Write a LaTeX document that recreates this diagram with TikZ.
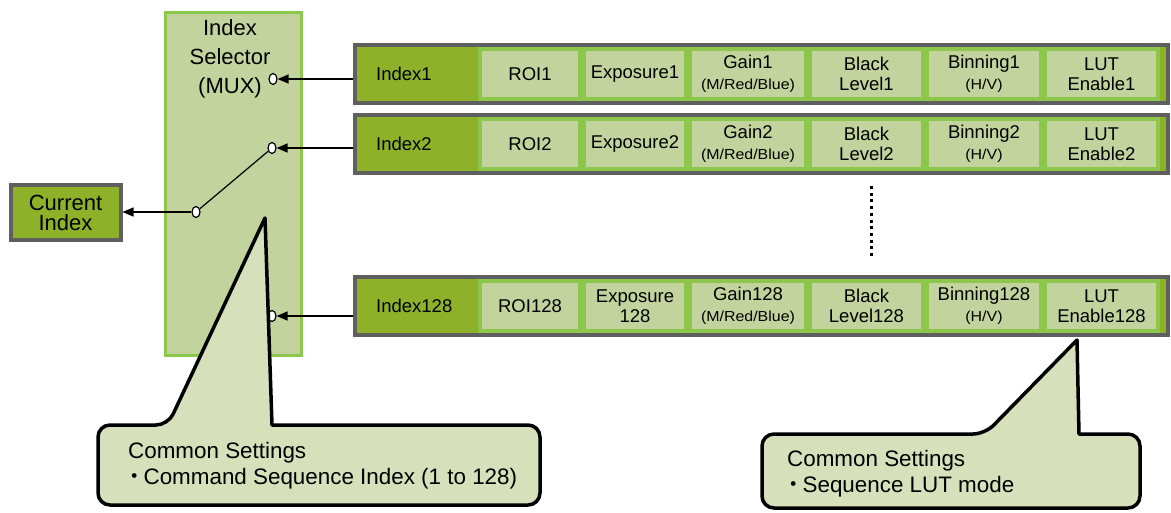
\documentclass[tikz,border=0pt]{standalone}
\usepackage{fontspec}
\setmainfont{Liberation Sans}
\newfontfamily\widesans[FakeStretch=1.1]{Liberation Sans}
\newfontfamily\cjkfont{Noto Sans CJK JP}
\usepackage{tikz}
\usetikzlibrary{arrows.meta,positioning,shapes.geometric}
\definecolor{OliveIdx}{HTML}{8DB22A}
\definecolor{LeafGreen}{HTML}{8CC64B}
\definecolor{PaleCell}{HTML}{C3D39E}
\definecolor{NoteFill}{HTML}{D6E1BC}
\definecolor{FrameGray}{HTML}{5F5F5F}
\newcommand\cellfont{\fontsize{18.5}{20.5}\selectfont}
\newcommand\subtxt[1]{{\widesans\fontsize{14.5}{13}\selectfont #1}}
\newcommand\dotmark{{\cjkfont\kern-5pt ・\kern-2pt}}

\begin{document}
\begin{tikzpicture}[x=1pt,y=-1pt,
  rowbox/.style={rectangle,draw=FrameGray,line width=4pt,fill=OliveIdx,
                 minimum width=813pt,minimum height=58pt,inner sep=0pt},
  idx/.style={inner sep=0pt,font=\cellfont},
  cell/.style={rectangle,draw=LeafGreen,line width=4pt,fill=PaleCell,
               minimum width=#1,minimum height=50pt,inner sep=2pt,
               align=center,font=\cellfont},
  muxbox/.style={rectangle,draw=LeafGreen,line width=3pt,fill=PaleCell,
                 minimum width=136pt,minimum height=343pt},
  curbox/.style={rectangle,draw=FrameGray,line width=4pt,fill=OliveIdx,
                 minimum width=110pt,minimum height=55pt,align=center,
                 font=\fontsize{22}{20}\selectfont},
  pin/.style={ellipse,draw,fill=white,line width=1.2pt,inner sep=0pt,
              minimum width=8pt,minimum height=11pt},
  arr/.style={-{Triangle[length=11pt,width=9pt]},line width=1.3pt},
  note/.style={draw=black,line width=3.5pt,fill=NoteFill,line join=round},
  notetext/.style={anchor=west,inner sep=0pt,align=left,
                   font=\fontsize{22.4}{26}\selectfont}]
\useasboundingbox (0,0) rectangle (1171,512);
% selector and output
\node[muxbox] (mux) at (233,184) {};
\node[align=center,font=\fontsize{22}{29}\selectfont] (muxlbl) at (230,59)
  {Index\\Selector\\(MUX)};
\node[curbox] (cur) at (65.5,212.5) {Current\\Index};
% sequence rows
\node[rowbox] (r1) at (761.5,74) {};
\node[idx,right=23pt of r1.west] (i1) {Index1};
\node[cell=100pt,right=125pt of r1.west] (roi1) {ROI1};
\node[cell=102pt,right=0pt of roi1] (exp1) {Exposure1};
\node[cell=116pt,right=0pt of exp1] (gain1) {Gain1\\\subtxt{(M/Red/Blue)}};
\node[cell=113pt,right=0pt of gain1] (blk1) {Black\\Level1};
\node[cell=114pt,right=0pt of blk1] (bin1) {Binning1\\\subtxt{(H/V)}};
\node[cell=113pt,right=0pt of bin1] (lut1) {LUT\\Enable1};

\node[rowbox] (r2) at (761.5,144) {};
\node[idx,right=23pt of r2.west] (i2) {Index2};
\node[cell=100pt,right=125pt of r2.west] (roi2) {ROI2};
\node[cell=102pt,right=0pt of roi2] (exp2) {Exposure2};
\node[cell=116pt,right=0pt of exp2] (gain2) {Gain2\\\subtxt{(M/Red/Blue)}};
\node[cell=113pt,right=0pt of gain2] (blk2) {Black\\Level2};
\node[cell=114pt,right=0pt of blk2] (bin2) {Binning2\\\subtxt{(H/V)}};
\node[cell=113pt,right=0pt of bin2] (lut2) {LUT\\Enable2};

\node[rowbox] (r128) at (761.5,306) {};
\node[idx,right=23pt of r128.west] (i128) {Index128};
\node[cell=100pt,right=125pt of r128.west] (roi128) {ROI128};
\node[cell=102pt,right=0pt of roi128] (exp128) {Exposure\\128};
\node[cell=116pt,right=0pt of exp128] (gain128) {Gain128\\\subtxt{(M/Red/Blue)}};
\node[cell=113pt,right=0pt of gain128] (blk128) {Black\\Level128};
\node[cell=114pt,right=0pt of blk128] (bin128) {Binning128\\\subtxt{(H/V)}};
\node[cell=113pt,right=0pt of bin128] (lut128) {LUT\\Enable128};

\coordinate (dtop) at (871,186);
\coordinate (dbot) at (871,256);
\draw[line width=3pt,dash pattern=on 3pt off 3.7pt] (dtop) -- (dbot);
% switch contacts
\node[pin] (c1) at (273,79) {};
\node[pin] (c2) at (272,148) {};
\node[pin] (c128) at (272,316) {};
\node[pin] (csw) at (196,212) {};
\draw[arr] (r1.west |- c1) -- (c1);
\draw[arr] (r2.west |- c2) -- (c2);
\draw[arr] (r128.west |- c128) -- (c128);
\draw[line width=1.2pt] (csw) -- (c2);
\draw[arr] (csw) -- (cur.east |- csw);
% callouts
\draw[note] (265,218) -- (272,425) [rounded corners=12pt] -- (540,425)
  -- (540,505) -- (98,505) -- (98,425) -- (168,425) [sharp corners] -- cycle;
\node[notetext] (note1) at (128,465.5)
  {Common Settings\\\dotmark Command Sequence Index (1 to 128)};
\draw[note] (1077,340) -- (1079,434) [rounded corners=12pt] -- (1140,434)
  -- (1140,508) -- (762,508) -- (762,434) -- (985,434) [sharp corners] -- cycle;
\node[notetext] (note2) at (787,473.5)
  {Common Settings\\\dotmark Sequence LUT mode};
\end{tikzpicture}
\end{document}
